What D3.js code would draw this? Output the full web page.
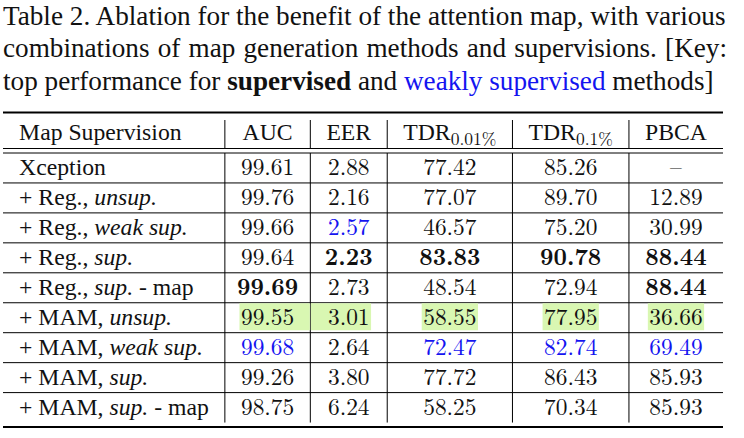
<!DOCTYPE html>
<html><head><meta charset="utf-8">
<script src="https://cdn.jsdelivr.net/npm/d3@7"></script>
<style>
html,body{margin:0;padding:0;background:#fff;}
svg{display:block}
text{font-family:"Liberation Serif","Tinos","Times New Roman",Times,serif;fill:#111;}
text.math, tspan.math{font-family:"Latin Modern Roman","Liberation Serif",serif;}
.b{font-weight:bold;} .i{font-style:italic;} .blue{fill:#1414f0;}
</style>
</head><body>
<script>
// ---------- data ----------
const captionLine1 = "Table 2. Ablation for the benefit of the attention map, with various";
const captionLine2 = "combinations of map generation methods and supervisions. [Key:";
const captionLine3 = [["top performance for ", ""], ["supervised", "b"], [" and ", ""], ["weakly supervised", "blue"], [" methods]", ""]];

const headerMain = ["Map Supervision", "AUC", "EER", "TDR", "TDR", "PBCA"];
const headerSub  = ["", "", "", "0.01%", "0.1%", ""];

const rowPrefix = ["Xception", "+ Reg., ", "+ Reg., ", "+ Reg., ", "+ Reg., ", "+ MAM, ", "+ MAM, ", "+ MAM, ", "+ MAM, "];
const rowItalic = ["", "unsup.", "weak sup.", "sup.", "sup.", "unsup.", "weak sup.", "sup.", "sup."];
const rowSuffix = ["", "", "", "", " - map", "", "", "", " - map"];

const auc    = [99.61, 99.76, 99.66, 99.64, 99.69, 99.55, 99.68, 99.26, 98.75];
const eer    = [2.88, 2.16, 2.57, 2.23, 2.73, 3.01, 2.64, 3.80, 6.24];
const tdr001 = [77.42, 77.07, 46.57, 83.83, 48.54, 58.55, 72.47, 77.72, 58.25];
const tdr01  = [85.26, 89.70, 75.20, 90.78, 72.94, 77.95, 82.74, 86.43, 70.34];
const pbca   = [null, 12.89, 30.99, 88.44, 88.44, 36.66, 69.49, 85.93, 85.93];

// row indices of top supervised (bold) and weakly supervised (blue) per metric column
const supBest  = [[4], [3], [3], [3], [3, 4]];
const weakBest = [[6], [2], [6], [6], [6]];
const highlightRows = [5];

// ---------- drawing ----------
const W = 744, H = 438;
const TEXTF = '"Liberation Serif","Tinos","Times New Roman",Times,serif';
const MATHF = '"Latin Modern Roman","Liberation Serif",serif';
const GREEN = "#d9f7b2";
const svg = d3.select("body").append("svg").attr("width", W).attr("height", H);
svg.append("rect").attr("width", W).attr("height", H).attr("fill", "#fff");

// text measurement on a canvas
const ctx = document.createElement("canvas").getContext("2d");
function tw(str, size, opt = {}) {
  ctx.font = `${opt.italic ? "italic " : ""}${opt.bold ? "bold " : ""}${size}px ${opt.math ? MATHF : TEXTF}`;
  return ctx.measureText(str).width;
}

// caption: one text per line, justified lines with word-spacing
const capSize = 27.2, capLeft = 3, capRight = 727;
const capY = d3.scaleLinear().domain([0, 1]).range([24.5, 57]);
function drawCaptionLine(segs, idx, justify) {
  const natural = d3.sum(segs, ([t, s]) => tw(t, capSize, { bold: s === "b" }));
  const nsp = d3.sum(segs, ([t]) => (t.match(/ /g) || []).length);
  const ws = justify ? (capRight - capLeft - natural) / nsp : 0;
  const t = svg.append("text").attr("x", capLeft).attr("y", capY(idx))
    .style("font-size", capSize + "px").style("word-spacing", ws + "px").attr("xml:space", "preserve");
  segs.forEach(([s, cls]) => t.append("tspan").attr("class", cls || null).text(s));
}
drawCaptionLine([[captionLine1, ""]], 0, true);
drawCaptionLine([[captionLine2, ""]], 1, true);
drawCaptionLine(captionLine3, 2, false);

// table
const fs = 23.7, numFs = 23.4, subFs = 17.5;
const metrics = [auc, eer, tdr001, tdr01, pbca];
const nRows = auc.length;
const tableLeft = 3, tableRight = 723;
const fmt = v => v == null ? "–" : v.toFixed(2);
const contentW = headerMain.map((h, c) => {
  const hw = tw(h, fs) + (headerSub[c] ? tw(headerSub[c], subFs, { math: true }) : 0);
  if (c === 0) {
    return Math.max(hw, d3.max(rowPrefix, (p, i) => tw(p, fs) + tw(rowItalic[i], fs, { italic: true }) + tw(rowSuffix[i], fs)));
  }
  return Math.max(hw, d3.max(metrics[c - 1], v => tw(fmt(v), numFs, { math: true })));
});
const pad = (tableRight - tableLeft - d3.sum(contentW)) / (2 * contentW.length);
const edges = [tableLeft];
contentW.forEach(w => edges.push(edges[edges.length - 1] + w + 2 * pad));
const colX = c => (edges[c] + edges[c + 1]) / 2;

const y = d3.scaleLinear().domain([0, 1]).range([153, 182.95]); // row top
const topRuleY = 112.5, headTop = 120, headRule1 = 148.5, baseOff = 22;

const lines = svg.append("g").attr("stroke", "#000");
const hline = (yy, w) => lines.append("line").attr("x1", tableLeft).attr("x2", tableRight).attr("y1", yy).attr("y2", yy).attr("stroke-width", w);
hline(topRuleY, 2);
hline(headRule1, 1);
d3.range(0, nRows).forEach(i => hline(y(i), 1));
hline(y(nRows) + 4.5, 2);
edges.slice(1, -1).forEach(x => {
  lines.append("line").attr("x1", x).attr("x2", x).attr("y1", headTop).attr("y2", headRule1).attr("stroke-width", 1);
  lines.append("line").attr("x1", x).attr("x2", x).attr("y1", y(0)).attr("y2", y(nRows)).attr("stroke-width", 1);
});

const hlLayer = svg.append("g");
const head = svg.append("g");
const tbody = svg.append("g");

// header
headerMain.forEach((h, c) => {
  const t = head.append("text").attr("y", 140).style("font-size", fs + "px");
  if (c === 0) t.attr("x", edges[0] + pad).text(h);
  else {
    t.attr("x", colX(c)).attr("text-anchor", "middle");
    t.append("tspan").text(h);
    if (headerSub[c]) t.append("tspan").attr("class", "math").style("font-size", subFs + "px").attr("dy", 4.5).text(headerSub[c]);
  }
});

// body
d3.range(nRows).forEach(i => {
  const by = y(i) + baseOff;
  const t = tbody.append("text").attr("x", edges[0] + pad).attr("y", by).style("font-size", fs + "px").attr("xml:space", "preserve");
  t.append("tspan").text(rowPrefix[i]);
  if (rowItalic[i]) t.append("tspan").attr("class", "i").text(rowItalic[i]);
  if (rowSuffix[i]) t.append("tspan").text(rowSuffix[i]);
  metrics.forEach((arr, m) => {
    const c = m + 1;
    const bold = supBest[m].includes(i), blue = weakBest[m].includes(i);
    const cls = ["math", bold ? "b" : "", blue ? "blue" : ""].filter(Boolean).join(" ");
    tbody.append("text").attr("class", cls).style("font-size", numFs + "px")
      .attr("x", colX(c)).attr("y", by).attr("text-anchor", "middle").text(fmt(arr[i]));
    if (highlightRows.includes(i)) {
      const w = tw(fmt(arr[i]), numFs, { math: true, bold });
      let x0 = colX(c) - w / 2 - 1.5, x1 = colX(c) + w / 2 + 1.5;
      if (c === 1) x1 = edges[c + 1] - 0.5;
      if (c === 2) x0 = edges[c] + 0.5;
      hlLayer.append("rect").attr("x", x0).attr("width", x1 - x0).attr("y", y(i) + 0.5).attr("height", 27).attr("fill", GREEN);
    }
  });
});
</script>
</body></html>
